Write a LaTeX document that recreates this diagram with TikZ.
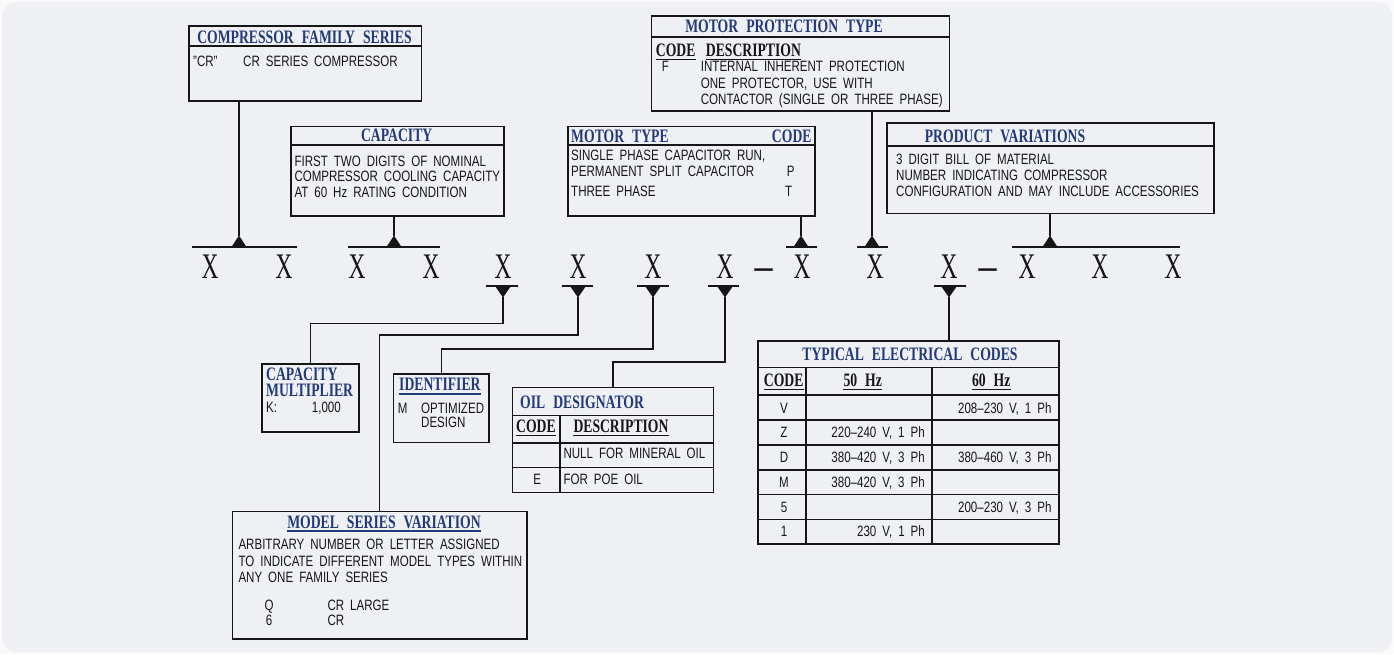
\documentclass[tikz,border=0pt]{standalone}
\usepackage{fontspec}
\setmainfont{Liberation Sans}
\newfontfamily\bodyf[FakeStretch=0.77]{Liberation Sans}
\newfontfamily\titlef[FakeStretch=0.72]{Liberation Serif}
\newfontfamily\xfont[FakeStretch=0.65]{Liberation Serif}
\newfontfamily\dashf{Liberation Serif}
\newcommand\myttlfont{\titlef\bfseries\fontsize{19}{19}\selectfont\spaceskip 8pt\relax}
\newcommand\mycmfont{\titlef\bfseries\fontsize{19}{16}\selectfont}
\newcommand\mybdyfont{\bodyf\fontsize{15}{16}\selectfont\spaceskip 6pt\relax}
\newcommand\myxfont{\xfont\fontsize{36}{36}\selectfont}
\newcommand\mydashfont{\dashf\bfseries\fontsize{36}{36}\selectfont}
\definecolor{navy}{RGB}{35,58,120}
\definecolor{panel}{RGB}{238,240,244}
\definecolor{outer}{RGB}{250,250,251}
\definecolor{ink}{RGB}{22,22,22}
\tikzset{
  ln/.style={draw=ink, line width=1.6pt},
  box/.style={draw=ink, line width=1.6pt, inner sep=0pt, anchor=north west},
  ttl/.style={inner sep=0pt, anchor=base, text=navy, font=\myttlfont},
  hdr/.style={inner sep=0pt, anchor=base, text=ink, font=\myttlfont},
  bdy/.style={inner sep=0pt, anchor=base west, text=ink, font=\mybdyfont},
  xl/.style={inner sep=0pt, anchor=base, text=ink, font=\myxfont},
  dsh/.style={inner sep=0pt, anchor=base, text=ink, font=\mydashfont},
  uptri/.pic={\fill[ink] (-7.5,0) -- (0,-11.5) -- (7.5,0) -- cycle;},
  dntri/.pic={\fill[ink] (-8,0) -- (0,11.5) -- (8,0) -- cycle;}
}
\begin{document}
\begin{tikzpicture}[x=1pt,y=-1pt]
\useasboundingbox (0,0) rectangle (1394,654);
\fill[outer] (0,0) rectangle (1394,654);
\fill[panel, rounded corners=14pt] (2,2) rectangle (1392,652);

% ---------- boxes ----------
\node[box, minimum width=232.4, minimum height=75] (cfs) at (188.3,25) {};
\node[box, minimum width=213.3, minimum height=89.3] (cap) at (290,125.7) {};
\node[box, minimum width=298, minimum height=95.3] (mpt) at (650.7,15) {};
\node[box, minimum width=247, minimum height=89.3] (mt) at (567.3,125.7) {};
\node[box, minimum width=327.3, minimum height=90.4] (pv) at (886,122.3) {};
\node[box, minimum width=97.3, minimum height=67.7] (capm) at (261,363.3) {};
\node[box, minimum width=95.6, minimum height=68.4] (idf) at (392.7,373.3) {};
\node[box, minimum width=201, minimum height=105] (oil) at (511.7,386.7) {};
\node[box, minimum width=294.3, minimum height=127.6] (msv) at (231.7,510.7) {};
\node[box, minimum width=301, minimum height=203.3] (tec) at (757.3,340) {};

% separators
\draw[ln] (188.3,46) -- (420.7,46);
\draw[ln] (290,145) -- (503.3,145);
\draw[ln] (650.7,36.7) -- (948.7,36.7);
\draw[ln] (567.3,145) -- (814.3,145);
\draw[ln] (886,146) -- (1213.3,146);
\foreach \yy in {415.3,442.7,467.3} \draw[ln] (511.7,\yy) -- (712.7,\yy);
\draw[ln] (560,415.3) -- (560,491.7);
\foreach \yy in {367.3,395,420,445,470,494.3,519.3} \draw[ln] (757.3,\yy) -- (1058.3,\yy);
\draw[ln] (806,367.3) -- (806,543.3);
\draw[ln] (931.7,367.3) -- (931.7,543.3);

% ---------- texts ----------
\node[ttl] (cfsT) at (304.5,43.3) {COMPRESSOR FAMILY SERIES};
\node[bdy] (cfs1) at (193,66) {”CR”};
\node[bdy] (cfs2) at (243,66) {CR SERIES COMPRESSOR};

\node[ttl] (capT) at (396.7,141.7) {CAPACITY};
\node[bdy] (cap1) at (294.3,166) {FIRST TWO DIGITS OF NOMINAL};
\node[bdy] (cap2) at (294.3,181.5) {COMPRESSOR COOLING CAPACITY};
\node[bdy] (cap3) at (294.3,197.3) {AT 60 Hz RATING CONDITION};

\node[ttl] (mptT) at (784,32.3) {MOTOR PROTECTION TYPE};
\node[hdr, anchor=base west] (mptH1) at (655.7,56.7) {CODE};
\node[hdr, anchor=base west] (mptH2) at (705.7,56.7) {DESCRIPTION};
\draw[ink, line width=1.2pt] ([yshift=-2.5pt]mptH1.base west) -- ([yshift=-2.5pt]mptH1.base east);
\draw[ink, line width=1.2pt] ([yshift=-2.5pt]mptH2.base west) -- ([yshift=-2.5pt]mptH2.base east);
\node[bdy] (mptF) at (661.7,71.7) {F};
\node[bdy] (mpt1) at (700.7,71.7) {INTERNAL INHERENT PROTECTION};
\node[bdy] (mpt2) at (700.7,88.3) {ONE PROTECTOR, USE WITH};
\node[bdy] (mpt3) at (700.7,104) {CONTACTOR (SINGLE OR THREE PHASE)};

\node[ttl, anchor=base west] (mtT) at (571,142.7) {MOTOR TYPE};
\node[ttl, anchor=base east] (mtC) at (811.7,142.7) {CODE};
\node[bdy] (mt1) at (571,160.7) {SINGLE PHASE CAPACITOR RUN,};
\node[bdy] (mt2) at (571,176.3) {PERMANENT SPLIT CAPACITOR};
\node[bdy] (mtP) at (786.7,176.3) {P};
\node[bdy] (mt3) at (571,196.7) {THREE PHASE};
\node[bdy] (mtTc) at (785,196.7) {T};

\node[ttl] (pvT) at (1005,142.3) {PRODUCT VARIATIONS};
\node[bdy] (pv1) at (896,164.3) {3 DIGIT BILL OF MATERIAL};
\node[bdy] (pv2) at (896,180.7) {NUMBER INDICATING COMPRESSOR};
\node[bdy] (pv3) at (896,196.7) {CONFIGURATION AND MAY INCLUDE ACCESSORIES};

\node[ttl, anchor=base west, align=left, font=\mycmfont] (cmT) at (266,396) {CAPACITY\\MULTIPLIER};
\node[bdy] (cmK) at (266,412.7) {K:};
\node[bdy] (cmV) at (311.7,412.7) {1,000};

\node[ttl, anchor=base west] (idT) at (399,390) {IDENTIFIER};
\draw[navy, line width=1.6pt] ([yshift=-4pt]idT.base west) -- ([yshift=-4pt]idT.base east);
\node[bdy] (idM) at (397.7,413.3) {M};
\node[bdy] (id1) at (421,413.3) {OPTIMIZED};
\node[bdy] (id2) at (421,427.3) {DESIGN};

\node[ttl, anchor=base west] (oilT) at (520,408.3) {OIL DESIGNATOR};
\node[hdr] (oilH1) at (535.9,432.7) {CODE};
\node[hdr, anchor=base west] (oilH2) at (573.3,432.7) {DESCRIPTION};
\draw[ink, line width=1.2pt] ([yshift=-2.5pt]oilH1.base west) -- ([yshift=-2.5pt]oilH1.base east);
\draw[ink, line width=1.2pt] ([yshift=-2.5pt]oilH2.base west) -- ([yshift=-2.5pt]oilH2.base east);
\node[bdy] (oil1) at (563.3,458.3) {NULL FOR MINERAL OIL};
\node[bdy, anchor=base] (oilE) at (537.3,484) {E};
\node[bdy] (oil2) at (563.3,484) {FOR POE OIL};

\node[ttl] (msvT) at (384,528.3) {MODEL SERIES VARIATION};
\draw[navy, line width=1.4pt] ([yshift=-2.5pt]msvT.base west) -- ([yshift=-2.5pt]msvT.base east);
\node[bdy] (msv1) at (238.3,549.3) {ARBITRARY NUMBER OR LETTER ASSIGNED};
\node[bdy] (msv2) at (238.3,566) {TO INDICATE DIFFERENT MODEL TYPES WITHIN};
\node[bdy] (msv3) at (238.3,582.7) {ANY ONE FAMILY SERIES};
\node[bdy, anchor=base] (msvQ) at (269,610) {Q};
\node[bdy] (msvQd) at (327.3,610) {CR LARGE};
\node[bdy, anchor=base] (msv6) at (269,625.3) {6};
\node[bdy] (msv6d) at (327.3,625.3) {CR};

\node[ttl] (tecT) at (910,360.7) {TYPICAL ELECTRICAL CODES};
\node[hdr] (tecH1) at (783.7,386.7) {CODE};
\node[hdr] (tecH2) at (862.7,386.7) {50 Hz};
\node[hdr] (tecH3) at (991.2,386.7) {60 Hz};
\foreach \n in {tecH1,tecH2,tecH3}
  \draw[ink, line width=1.2pt] ([yshift=-2.5pt]\n.base west) -- ([yshift=-2.5pt]\n.base east);
\node[bdy, anchor=base] (c1) at (784,413.3) {V};
\node[bdy, anchor=base east] (c1b) at (1051.7,413.3) {208–230 V, 1 Ph};
\node[bdy, anchor=base] (c2) at (784,437.7) {Z};
\node[bdy, anchor=base east] (c2a) at (925,437.7) {220–240 V, 1 Ph};
\node[bdy, anchor=base] (c3) at (784,462.7) {D};
\node[bdy, anchor=base east] (c3a) at (925,462.7) {380–420 V, 3 Ph};
\node[bdy, anchor=base east] (c3b) at (1051.7,462.7) {380–460 V, 3 Ph};
\node[bdy, anchor=base] (c4) at (784,487.3) {M};
\node[bdy, anchor=base east] (c4a) at (925,487.3) {380–420 V, 3 Ph};
\node[bdy, anchor=base] (c5) at (784,512.7) {5};
\node[bdy, anchor=base east] (c5b) at (1051.7,512.7) {200–230 V, 3 Ph};
\node[bdy, anchor=base] (c6) at (784,536.7) {1};
\node[bdy, anchor=base east] (c6a) at (925,536.7) {230 V, 1 Ph};

% ---------- model code row ----------
\node[xl] (x1) at (210,278) {X};
\node[xl] (x2) at (284,278) {X};
\node[xl] (x3) at (357,278) {X};
\node[xl] (x4) at (431,278) {X};
\node[xl] (x5) at (503,278) {X};
\node[xl] (x6) at (578,278) {X};
\node[xl] (x7) at (653,278) {X};
\node[xl] (x8) at (725,278) {X};
\node[dsh] (dash1) at (763.5,278) {–};
\node[xl] (x9) at (802,278) {X};
\node[xl] (x10) at (875,278) {X};
\node[xl] (x11) at (949,278) {X};
\node[dsh] (dash2) at (987.5,278) {–};
\node[xl] (x12) at (1027,278) {X};
\node[xl] (x13) at (1100,278) {X};
\node[xl] (x14) at (1173,278) {X};

% bars
\draw[ln] (192,247) -- (297,247);
\draw[ln] (348,247) -- (440,247);
\draw[ln] (786,247) -- (817,247);
\draw[ln] (857,247) -- (888,247);
\draw[ln] (1012,247) -- (1180,247);
\draw[ln] (486,286) -- (518,286);
\draw[ln] (562,286) -- (593,286);
\draw[ln] (637,286) -- (669,286);
\draw[ln] (708,286) -- (739,286);
\draw[ln] (934,286) -- (966,286);

% triangles
\pic at (239,247) {uptri};
\pic at (394,247) {uptri};
\pic at (801,247) {uptri};
\pic at (872,247) {uptri};
\pic at (1050,247) {uptri};
\pic at (503,286) {dntri};
\pic at (578,286) {dntri};
\pic at (653,286) {dntri};
\pic at (725,286) {dntri};
\pic at (949,286) {dntri};

\coordinate (u1) at (239,236);
\coordinate (u2) at (394,236);
\coordinate (u3) at (801,236);
\coordinate (u4) at (872,236);
\coordinate (u5) at (1050,236);
\coordinate (d1) at (503,297);
\coordinate (d2) at (578,297);
\coordinate (d3) at (653,297);
\coordinate (d4) at (725,297);
\coordinate (d5) at (949,297);

% ---------- connectors ----------
\draw[ln] (cfs.south -| u1) -- (u1);
\draw[ln] (cap.south -| u2) -- (u2);
\draw[ln] (mt.south -| u3) -- (u3);
\draw[ln] (mpt.south -| u4) -- (u4);
\draw[ln] (pv.south -| u5) -- (u5);
\draw[ln] (d1) -- ++(0,26.3) -| (capm.north);
\draw[ln] (d2) -- ++(0,38) -| (msv.north);
\draw[ln] (d3) -- ++(0,52) -| (idf.north);
\draw[ln] (d4) -- ++(0,64.7) -| (oil.north);
\draw[ln] (d5) -- (tec.north -| d5);
\end{tikzpicture}
\end{document}
